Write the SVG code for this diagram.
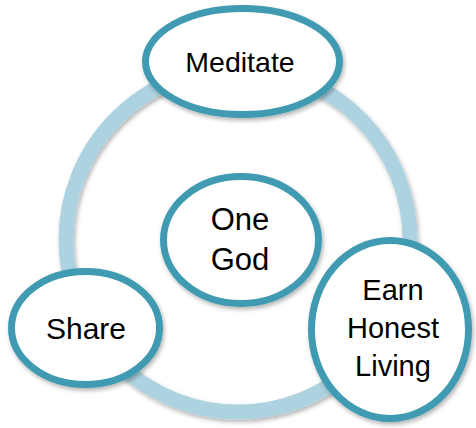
<svg xmlns="http://www.w3.org/2000/svg" width="476" height="428" viewBox="0 0 476 428">
<defs>
<filter id="sh" x="-20%" y="-20%" width="140%" height="140%">
<feDropShadow dx="1.5" dy="2.5" stdDeviation="2" flood-color="#000" flood-opacity="0.3"/>
</filter>
<style>
.node ellipse{fill:#fff;stroke:#419BB2;stroke-width:7;filter:url(#sh)}
.node text{font-family:"Liberation Sans",Arial,sans-serif;fill:#000;text-anchor:middle}
.ring{fill:none;stroke:#AED3E0;stroke-width:15;filter:url(#sh)}
</style>
</defs>
<rect width="476" height="428" fill="#fff"/>
<g id="connectors">
<circle class="ring" cx="238" cy="240" r="172"/>
</g>
<g id="node-meditate" class="node">
<ellipse cx="242.5" cy="61.5" rx="97" ry="53"/>
<text x="240" y="72" font-size="28.5">Meditate</text>
</g>
<g id="node-onegod" class="node">
<ellipse cx="241" cy="240" rx="77.5" ry="63.5"/>
<text x="240" y="230" font-size="31">One</text>
<text x="240" y="270" font-size="31">God</text>
</g>
<g id="node-share" class="node">
<ellipse cx="85.5" cy="328" rx="74" ry="56.5"/>
<text x="86" y="339" font-size="30">Share</text>
</g>
<g id="node-earn" class="node">
<ellipse cx="390" cy="329.5" rx="78.5" ry="89"/>
<text x="393" y="300" font-size="29">Earn</text>
<text x="393" y="338" font-size="29">Honest</text>
<text x="393" y="376" font-size="29">Living</text>
</g>
</svg>
